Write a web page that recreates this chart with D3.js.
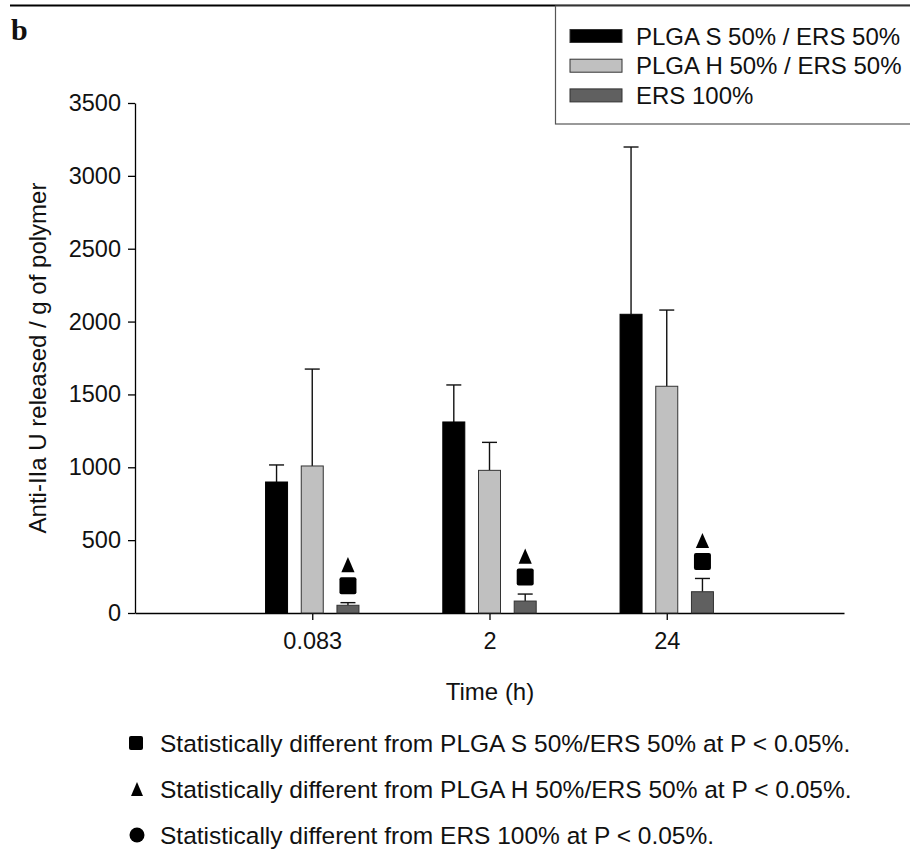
<!DOCTYPE html>
<html>
<head>
<meta charset="utf-8">
<script src="https://cdn.jsdelivr.net/npm/d3@7"></script>
<style>
  html, body { margin: 0; padding: 0; background: #fff; }
  svg { display: block; }
  text { font-family: "Liberation Sans", Arial, Helvetica, sans-serif; fill: #111; }
</style>
</head>
<body>
<svg id="chart" width="910" height="852"></svg>
<script>
// ---------- data ----------
const categories = ["0.083", "2", "24"];
const seriesNames = ["PLGA S 50% / ERS 50%", "PLGA H 50% / ERS 50%", "ERS 100%"];
const seriesColors = ["#000000", "#c0c0c0", "#606060"];
const plgaS = [899, 1311, 2050];
const plgaSErr = [117, 254, 1148];
const plgaH = [1009, 979, 1556];
const plgaHErr = [665, 192, 523];
const ers = [53, 82, 146];
const ersErr = [18, 48, 91];
const ersSignificance = [["square", "triangle"], ["square", "triangle"], ["square", "triangle"]];
const yTicks = [0, 500, 1000, 1500, 2000, 2500, 3000, 3500];
const footnotes = [
  { symbol: "square", text: "Statistically different from PLGA S 50%/ERS 50% at P < 0.05%." },
  { symbol: "triangle", text: "Statistically different from PLGA H 50%/ERS 50% at P < 0.05%." },
  { symbol: "circle", text: "Statistically different from ERS 100% at P < 0.05%." }
];

const values = [plgaS, plgaH, ers];
const errors = [plgaSErr, plgaHErr, ersErr];

// ---------- layout ----------
const svg = d3.select("#chart");
const x = d3.scaleLinear().domain([0, categories.length + 1]).range([135, 844]);
const y = d3.scaleLinear().domain([0, 3500]).range([613, 103]);
const offset = d3.scalePoint().domain(seriesNames).range([-35.7, 35.7]);
const barW = 22;

// top rule
svg.append("line").attr("x1", 10).attr("x2", 910).attr("y1", 5.5).attr("y2", 5.5)
  .attr("stroke", "#000").attr("stroke-width", 2.2);

// panel label
svg.append("text").attr("x", 11).attr("y", 40)
  .style("font-family", "'Liberation Serif', 'Times New Roman', serif")
  .style("font-weight", "bold").style("font-size", "30px").text("b");

// legend
const lg = svg.append("g");
lg.append("rect").attr("x", 555.5).attr("y", 6).attr("width", 400).attr("height", 118)
  .attr("fill", "#fff").attr("stroke", "#555").attr("stroke-width", 1.2);
seriesNames.forEach((s, i) => {
  const cy = 36 + i * 29.7;
  lg.append("rect").attr("x", 570).attr("y", cy - 6.5).attr("width", 52).attr("height", 13)
    .attr("fill", seriesColors[i]).attr("stroke", "#333").attr("stroke-width", 1);
  lg.append("text").attr("x", 636).attr("y", cy).attr("dy", "0.36em")
    .style("font-size", "24px").text(s);
});

// axes
const yAxis = d3.axisLeft(y).tickValues(yTicks).tickFormat(d3.format("d"))
  .tickSize(7).tickPadding(7).tickSizeOuter(0);
const gy = svg.append("g").attr("transform", "translate(135,0)").call(yAxis);
gy.select(".domain").attr("stroke", "#000").attr("stroke-width", 1.3);
gy.selectAll(".tick line").attr("stroke", "#000").attr("stroke-width", 1.3);
gy.selectAll(".tick text").style("font-size", "23.5px").attr("fill", "#111");

const xAxis = d3.axisBottom(x).tickValues(categories.map((c, i) => i + 1))
  .tickFormat((d) => categories[d - 1]).tickSize(7).tickPadding(12).tickSizeOuter(0);
const gx = svg.append("g").attr("transform", "translate(0,613)").call(xAxis);
gx.select(".domain").attr("stroke", "#000").attr("stroke-width", 1.3);
gx.selectAll(".tick line").attr("stroke", "#000").attr("stroke-width", 1.3);
gx.selectAll(".tick text").style("font-size", "23.5px").attr("fill", "#111");

// axis titles
svg.append("text").attr("transform", "translate(46,358) rotate(-90)")
  .attr("text-anchor", "middle").style("font-size", "24px").text("Anti-IIa U released / g of polymer");
svg.append("text").attr("x", 490).attr("y", 700).attr("text-anchor", "middle")
  .style("font-size", "24px").text("Time (h)");

// bars + error bars
const plot = svg.append("g");
seriesNames.forEach((s, si) => {
  categories.forEach((c, ci) => {
    const cx = x(ci + 1) + offset(s);
    const v = values[si][ci], e = errors[si][ci];
    plot.append("line").attr("x1", cx).attr("x2", cx).attr("y1", y(v)).attr("y2", y(v + e))
      .attr("stroke", "#111").attr("stroke-width", 1.4);
    plot.append("line").attr("x1", cx - 7.5).attr("x2", cx + 7.5).attr("y1", y(v + e)).attr("y2", y(v + e))
      .attr("stroke", "#111").attr("stroke-width", 1.4);
    plot.append("rect").attr("x", cx - barW / 2).attr("y", y(v)).attr("width", barW)
      .attr("height", y(0) - y(v)).attr("fill", seriesColors[si])
      .attr("stroke", si === 0 ? "#000" : "#333").attr("stroke-width", 1);
  });
});

// significance markers over ERS 100%
function drawSymbol(g, type, cx, cy, size) {
  if (type === "square") {
    g.append("rect").attr("x", cx - size / 2).attr("y", cy - size / 2).attr("width", size)
      .attr("height", size).attr("rx", 2).attr("fill", "#000");
  } else if (type === "triangle") {
    const w = size * 0.8, h = size * 0.92;
    g.append("path").attr("d", `M${cx},${cy - h / 2}L${cx + w / 2},${cy + h / 2}L${cx - w / 2},${cy + h / 2}Z`)
      .attr("fill", "#000");
  } else {
    g.append("circle").attr("cx", cx).attr("cy", cy).attr("r", size / 2).attr("fill", "#000");
  }
}
categories.forEach((c, ci) => {
  const cx = x(ci + 1) + offset(seriesNames[2]);
  const top = y(ers[ci] + ersErr[ci]);
  ersSignificance[ci].forEach((sym) => {
    if (sym === "square") drawSymbol(plot, "square", cx, top - 17, 17);
    if (sym === "triangle") drawSymbol(plot, "triangle", cx, top - 38, 16.5);
  });
});

// footnotes
footnotes.forEach((f, i) => {
  const cy = 743 + i * 46;
  const g = svg.append("g");
  if (f.symbol === "square") drawSymbol(g, "square", 136, cy, 14);
  if (f.symbol === "triangle") drawSymbol(g, "triangle", 137, cy, 15);
  if (f.symbol === "circle") drawSymbol(g, "circle", 137, cy, 15);
  g.append("text").attr("x", 160).attr("y", cy).attr("dy", "0.36em")
    .style("font-size", "24.5px").text(f.text);
});
</script>
</body>
</html>
